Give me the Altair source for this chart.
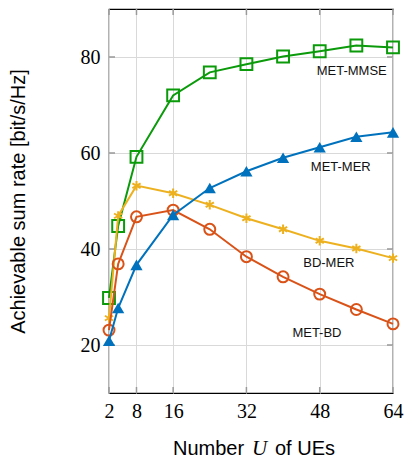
import altair as alt
import pandas as pd

U = [2, 4, 8, 16, 24, 32, 40, 48, 56, 64]
met_mmse = [29.8, 44.8, 59.2, 72.0, 76.8, 78.5, 80.1, 81.2, 82.4, 82.0]
bd_mer = [25.6, 46.9, 53.2, 51.6, 49.2, 46.4, 44.1, 41.7, 40.1, 38.1]
met_bd = [23.1, 36.9, 46.7, 48.1, 44.1, 38.4, 34.2, 30.6, 27.4, 24.4]
met_mer = [20.9, 27.7, 36.7, 47.1, 52.7, 56.2, 59.0, 61.2, 63.4, 64.3]

series_names = ["MET-MMSE", "BD-MER", "MET-BD", "MET-MER"]
series_values = [met_mmse, bd_mer, met_bd, met_mer]
series_colors = ["#0a9a0a", "#EDB120", "#D95319", "#0072BD"]

label_names = ["MET-MMSE", "MET-MER", "BD-MER", "MET-BD"]
label_x = [55.0, 52.6, 50.0, 47.4]
label_y = [77.0, 57.1, 37.1, 22.5]

x_ticks = [2, 8, 16, 32, 48, 64]
y_ticks = [20, 40, 60, 80]

W, H = 284, 384
xs = alt.Scale(domain=[2, 64], nice=False, zero=False)
ys = alt.Scale(domain=[10, 90], nice=False, zero=False)

asterisk = "M0,-1L0,1M-0.866,-0.5L0.866,0.5M-0.866,0.5L0.866,-0.5"

base_x = alt.X("U:Q", scale=xs,
               axis=alt.Axis(values=x_ticks, title=None, grid=True, gridColor="#d9d9d9",
                             domain=False, ticks=False, labelFont="Liberation Serif",
                             labelFontSize=20, labelColor="black", labelPadding=8,
                             labelFlush=False))
base_y = alt.Y("v:Q", scale=ys,
               axis=alt.Axis(values=y_ticks, title="Achievable sum rate [bit/s/Hz]",
                             grid=True, gridColor="#d9d9d9", domain=False, ticks=False,
                             labelFont="Liberation Serif", labelFontSize=20,
                             labelColor="black", labelPadding=9,
                             titleFont="Liberation Sans", titleFontSize=20,
                             titleFontWeight="normal", titleColor="black",
                             titleX=-90.5, titleBaseline="middle"))

layers = []

# inner tick marks
xt = pd.DataFrame({"U": x_ticks})
yt = pd.DataFrame({"v": y_ticks})
tick_color = "#999999"
layers.append(alt.Chart(xt).mark_rule(color=tick_color, strokeWidth=1.5).encode(
    x=alt.X("U:Q", scale=xs), y=alt.value(H - 6), y2=alt.value(H)))
layers.append(alt.Chart(xt).mark_rule(color=tick_color, strokeWidth=1.5).encode(
    x=alt.X("U:Q", scale=xs), y=alt.value(0), y2=alt.value(6)))
layers.append(alt.Chart(yt).mark_rule(color=tick_color, strokeWidth=1.5).encode(
    y=alt.Y("v:Q", scale=ys), x=alt.value(0), x2=alt.value(6)))
layers.append(alt.Chart(yt).mark_rule(color=tick_color, strokeWidth=1.5).encode(
    y=alt.Y("v:Q", scale=ys), x=alt.value(W - 6), x2=alt.value(W)))

first = True
for name, vals, col in zip(series_names, series_values, series_colors):
    df = pd.DataFrame({"U": U, "v": vals})
    bx = base_x if first else alt.X("U:Q", scale=xs)
    by = base_y if first else alt.Y("v:Q", scale=ys)
    first = False
    line = alt.Chart(df).mark_line(color=col, strokeWidth=2).encode(x=bx, y=by)
    if name == "MET-MMSE":
        pt = alt.Chart(df).mark_point(shape="square", size=140, filled=False,
                                      color=col, strokeWidth=2, opacity=1)
    elif name == "BD-MER":
        pt = alt.Chart(df).mark_point(shape=asterisk, size=90, filled=False,
                                      color=col, strokeWidth=2, opacity=1)
    elif name == "MET-BD":
        pt = alt.Chart(df).mark_point(shape="circle", size=120, filled=False,
                                      color=col, strokeWidth=2, opacity=1)
    else:
        pt = alt.Chart(df).mark_point(shape="triangle-up", size=150, filled=True,
                                      color=col, strokeWidth=1.5, opacity=1)
    pt = pt.encode(x=alt.X("U:Q", scale=xs), y=alt.Y("v:Q", scale=ys))
    layers += [line, pt]

lab = pd.DataFrame({"name": label_names, "U": label_x, "v": label_y})
layers.append(alt.Chart(lab).mark_text(font="Liberation Sans", fontSize=13,
                                       color="#111111", align="center",
                                       baseline="middle").encode(
    x=alt.X("U:Q", scale=xs), y=alt.Y("v:Q", scale=ys), text="name:N"))

# x-axis title pieces (mixed fonts)
title_y = H + 62
layers.append(alt.Chart(pd.DataFrame({"t": ["Number"]})).mark_text(
    font="Liberation Sans", fontSize=20, color="black", align="left",
    baseline="alphabetic").encode(x=alt.value(64), y=alt.value(title_y), text="t:N"))
layers.append(alt.Chart(pd.DataFrame({"t": ["U"]})).mark_text(
    font="Liberation Serif", fontStyle="italic", fontSize=21, color="black",
    align="left", baseline="alphabetic").encode(x=alt.value(143), y=alt.value(title_y),
                                                 text="t:N"))
layers.append(alt.Chart(pd.DataFrame({"t": ["of UEs"]})).mark_text(
    font="Liberation Sans", fontSize=20, color="black", align="left",
    baseline="alphabetic").encode(x=alt.value(166), y=alt.value(title_y), text="t:N"))

chart = alt.layer(*layers).properties(
    width=W, height=H,
    autosize=alt.AutoSizeParams(type="none"),
    padding={"left": 101, "top": 1, "right": 11, "bottom": 66},
    background="white",
).configure_view(stroke="black", strokeWidth=1.2)

chart.save("out.html", embed_options={"renderer": "svg", "actions": False})
